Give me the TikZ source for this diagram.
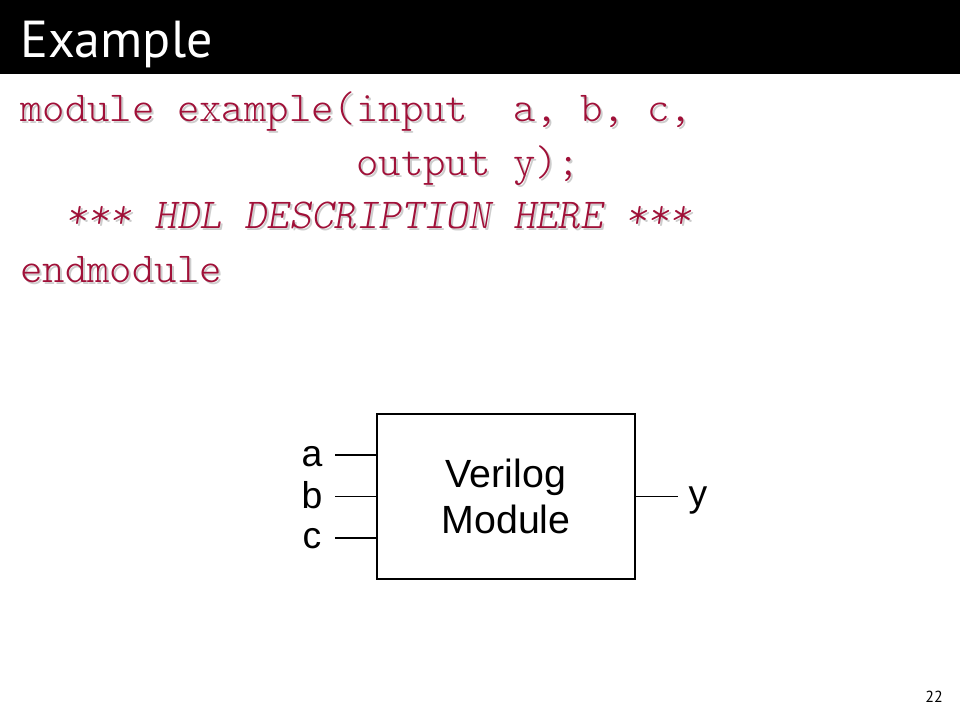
\documentclass[tikz,border=0pt]{standalone}
\usepackage{fontspec}
\setmainfont{Liberation Sans}
\newfontfamily\titlefont{PT Sans}
\newfontfamily\codefont{Latin Modern Mono Light}
\definecolor{codered}{RGB}{160,16,56}
\definecolor{shadowgray}{RGB}{205,205,205}
\newcommand{\shtext}[1]{\rlap{\hspace{1.5pt}\raisebox{-1.5pt}{\color{shadowgray}#1}}#1}
\begin{document}
\begin{tikzpicture}[x=0.75pt,y=-0.75pt,
  code/.style={anchor=base west, inner sep=0pt, text=codered,
    font=\codefont\fontsize{32}{36}\selectfont},
  lbl/.style={anchor=base, inner sep=0pt, font=\fontsize{28}{33}\selectfont},
  wire/.style={draw=black, line width=0.8pt}]
\useasboundingbox (0,0) rectangle (960,720);
\fill[white] (0,0) rectangle (960,720);
% title bar
\fill[black] (0,0) rectangle (960,74);
\node[anchor=base west, inner sep=0pt, text=white,
  font=\titlefont\fontsize{39}{40}\selectfont] (title) at (20,58) {Example};
% code
\node[code] (c1) at (20,122) {\shtext{module example(input\ \ a, b, c,}};
\node[code] (c2) at (356,175.5) {\shtext{output y);}};
\node[code] (c3) at (64.8,229) {\itshape\shtext{*** HDL DESCRIPTION HERE ***}};
\node[code] (c4) at (20,282.5) {\shtext{endmodule}};
% module box
\node[draw, line width=0.8pt, minimum width=193.5pt, minimum height=123.75pt,
  inner sep=0pt, align=center, font=\fontsize{29.5}{34}\selectfont] (box) at (506,496.5) {Verilog\\Module};
% wires
\coordinate (ea) at (335,455);
\coordinate (eb) at (335,496.5);
\coordinate (ec) at (335,538);
\coordinate (ey) at (678,496.5);
\draw[wire] (ea) -- (ea -| box.west);
\draw[wire] (eb) -- (eb -| box.west);
\draw[wire] (ec) -- (ec -| box.west);
\draw[wire] (box.east |- ey) -- (ey);
% labels
\node[lbl] (la) at (312,466) {a};
\node[lbl] (lb) at (312,508) {b};
\node[lbl] (lc) at (312,548) {c};
\node[lbl] (ly) at (698,506) {y};
% page number
\node[inner sep=0pt, font=\titlefont\fontsize{12}{14}\selectfont] (pg) at (934,697) {22};
\end{tikzpicture}
\end{document}
